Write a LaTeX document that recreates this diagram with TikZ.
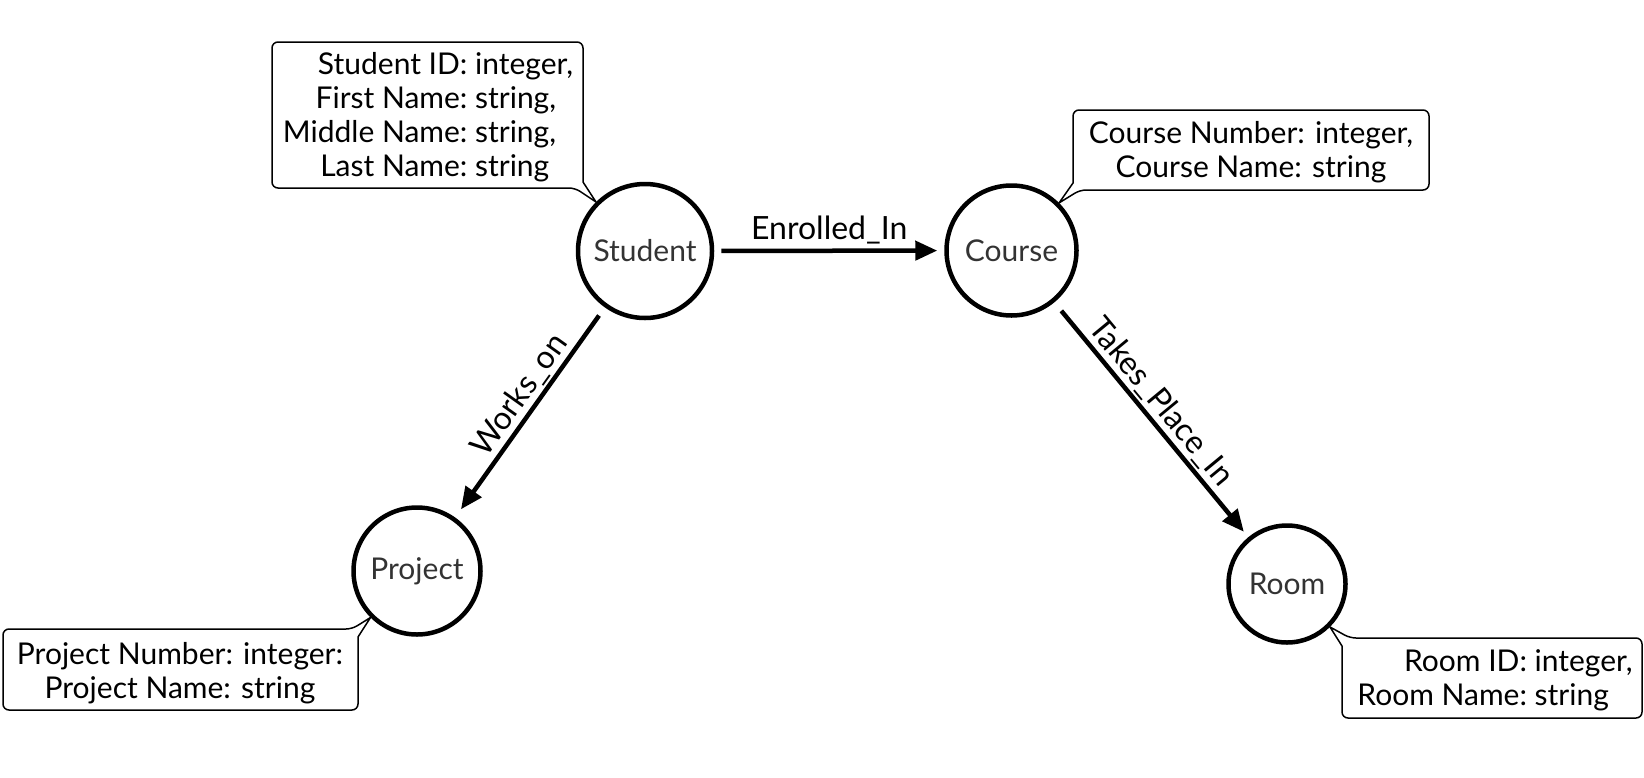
\documentclass[tikz,border=0pt]{standalone}
\usepackage{fontspec}
\setmainfont{Lato}
\usetikzlibrary{arrows.meta}
\definecolor{textgray}{HTML}{333333}
\begin{document}
\begin{tikzpicture}[x=1pt,y=-1pt,
  entity/.style={circle, draw=black, line width=4.5pt, inner sep=0pt, text=textgray, font=\fontsize{30}{33}\selectfont},
  rel/.style={line width=4.5pt, -{Triangle[length=22pt,width=19pt]}},
  rellabel/.style={font=\fontsize{32}{35}\selectfont, inner sep=2pt, text=black},
  callout/.style={draw=black, line width=1.5pt, fill=white, rounded corners=6pt},
  attr/.style={font=\fontsize{30}{34}\selectfont, inner sep=0pt, align=center, text=black}]
\useasboundingbox (0,0) rectangle (1644,777);

% entities
\node[entity, minimum size=134pt] (student) at (645,251) {Student};
\node[entity, minimum size=130pt] (course) at (1011.5,250.5) {Course};
\node[entity, minimum size=127pt] (project) at (417,571) {Project};
\node[entity, minimum size=117pt] (room) at (1287,584) {Room};

% relationships
\draw[rel, shorten <=7pt, shorten >=7pt] (student) -- (course)
  node[rellabel, midway, above=2pt] (enrolledlbl) {Enrolled\_In};
\draw[rel, shorten <=10pt, shorten >=10pt] (student) -- (project)
  node[rellabel, pos=0.47, above, sloped] (workslbl) {Works\_on};
\draw[rel, shorten <=11pt, shorten >=7pt] (course) -- (room)
  node[rellabel, pos=0.475, above, sloped] (takeslbl) {Takes\_Place\_In};

% callouts
\draw[callout] (430,42) -- (272,42) -- (272,188) -- (575,188) [sharp corners] -- (student.135) -- (583,182) [rounded corners=6pt] -- (583,42) -- cycle;
\draw[callout] (1250,110) -- (1429,110) -- (1429,190) -- (1080,190) [sharp corners] -- (course.45) -- (1073,183) [rounded corners=6pt] -- (1073,110) -- cycle;
\draw[callout] (180,629) -- (352,629) [sharp corners] -- (project.225) -- (358,637) [rounded corners=6pt] -- (358,710) -- (3,710) -- (3,629) -- cycle;
\draw[callout] (1490,638) -- (1350,638) [sharp corners] -- (room.-45) -- (1342,646) [rounded corners=6pt] -- (1342,718) -- (1642,718) -- (1642,638) -- cycle;

% attribute texts
\node[attr] (studentattr) at (428,119) {\begin{tabular}{@{}r@{}l@{}}Student ID:&\ integer,\\First Name:&\ string,\\Middle Name:&\ string,\\Last Name:&\ string\end{tabular}};
\node[attr] (courseattr) at (1251,152) {Course Number: integer,\\Course Name: string};
\node[attr] (projectattr) at (180,673) {Project Number: integer:\\Project Name: string};
\node[attr] (roomattr) at (1495,682) {\begin{tabular}{@{}r@{}l@{}}Room ID:&\ integer,\\Room Name:&\ string\end{tabular}};
\end{tikzpicture}
\end{document}
